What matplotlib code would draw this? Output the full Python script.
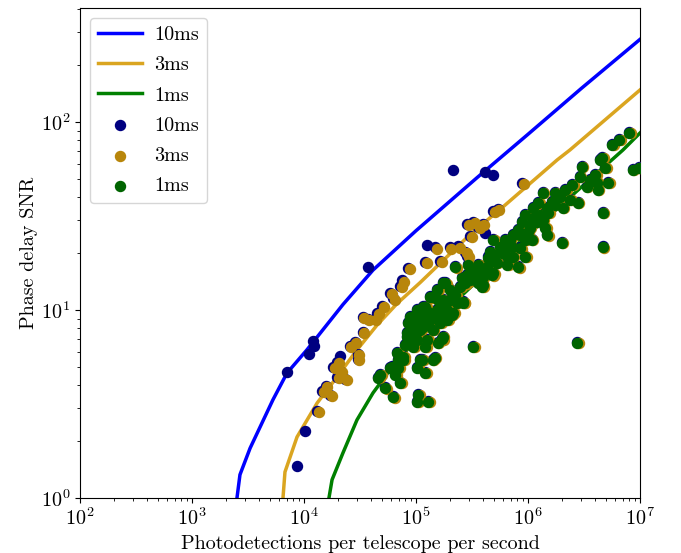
import numpy as np
import matplotlib
matplotlib.use("Agg")
import matplotlib.pyplot as plt
from matplotlib.transforms import offset_copy

plt.rcParams['font.family'] = ['cmr10', 'DejaVu Serif']
plt.rcParams['mathtext.fontset'] = 'cm'
plt.rcParams['axes.formatter.use_mathtext'] = True
plt.rcParams['font.size'] = 14.5

# ---------------- model curves ----------------
line_flux_10ms = [2520, 2680, 3300, 5280, 7050, 1.06e4, 1.31e4, 2.23e4, 4.13e4, 1.0e5, 3.5e5, 1.0e6, 3.0e6, 1.0e7]
line_snr_10ms = [1.0, 1.33, 1.84, 3.33, 4.62, 6.13, 7.18, 10.7, 16.3, 26.4, 50.5, 86.0, 151, 275]

line_flux_3ms = [6490, 6760, 8660, 1.31e4, 1.97e4, 2.97e4, 4.48e4, 6.76e4, 1.09e5, 3.0e5, 6.0e5, 1.82e6, 2.37e6, 1.0e7]
line_snr_3ms = [1.0, 1.375, 2.11, 3.20, 4.40, 6.13, 8.3, 10.8, 14.0, 25.0, 35.4, 62.8, 71.0, 148]

line_flux_1ms = [1.67e4, 1.78e4, 2.23e4, 2.97e4, 4.13e4, 5.86e4, 8.31e4, 1.25e5, 2.47e5, 5.62e5, 1.5e6, 7.05e6, 1.0e7]
line_snr_1ms = [1.0, 1.25, 1.74, 2.60, 3.62, 4.80, 6.13, 8.12, 11.7, 18.5, 31.2, 71.0, 87.4]

# ---------------- measured points ----------------
# points present in all three sets (1ms, 3ms, 10ms)
flux_1ms = [2.23e5, 2.92e5, 3.58e5, 4.31e5, 4.77e5, 3.89e5, 2.86e5, 1.82e5, 2.47e5, 2.14e5,
            1.41e5, 1.74e5, 2.32e5, 2.63e5, 1.21e5, 1.02e5, 1.54e5, 1.89e5, 2.14e5, 8.84e4,
            1.09e5, 1.33e5, 1.64e5, 8.49e4, 9.40e4, 1.16e5, 1.41e5, 1.74e5, 8.31e4, 1.02e5,
            1.26e5, 1.57e5, 9.40e4, 1.21e5, 3.23e5, 6.77e4, 7.65e4, 1.14e5, 1.47e5, 6.11e4,
            6.91e4, 1.02e5, 1.21e5, 4.77e4, 6.50e4, 7.20e4, 5.29e4, 6.23e4, 1.05e5, 1.02e5,
            1.28e5, 4.58e4, 5.86e4, 6.91e4, 7.65e4, 1.09e5, 1.41e5, 8.31e4, 1.02e5, 1.16e5,
            1.33e5, 1.54e5, 1.74e5,
            3.03e6, 4.39e6, 4.87e6, 8.65e6, 2.91e6, 2.47e6, 2.14e6, 4.13e6, 5.18e6, 4.21e6,
            3.36e6, 1.36e6, 1.74e6, 1.93e6, 1.64e6, 1.23e6, 1.11e6, 1.48e6, 2.05e6, 2.79e6,
            4.67e6, 9.40e5, 1.15e6, 1.36e6, 8.84e5, 1.08e6, 8.14e5, 9.98e5, 7.33e5, 9.40e5,
            1.48e6, 1.08e6, 2.01e6, 4.67e6, 6.23e5, 4.87e5, 5.62e5, 7.19e5, 4.58e5, 5.86e5,
            7.33e5, 9.40e5, 4.40e5, 5.28e5, 6.49e5, 8.14e5, 4.31e5, 4.87e5, 3.96e5, 3.96e5,
            9.7e6, 7.98e6, 6.50e6, 5.63e6, 4.58e6, 2.74e6, 1.71e5, 2.63e5, 2.09e5, 1.89e5,
            7.98e4, 8.84e4, 9.80e4, 1.09e5, 1.28e5, 1.47e5, 1.71e5, 1.82e5, 2.01e5, 1.57e5,
            1.28e5, 1.05e5, 9.21e4, 2.23e5, 2.74e5, 3.04e5, 3.37e5, 3.73e5, 3.58e5, 4.58e5,
            5.08e5, 3.17e5, 2.57e5, 2.01e5, 6.23e5, 6.90e5, 8.48e5, 1.04e6, 1.20e6, 1.28e6,
            1.51e6, 1.74e6, 8.48e5, 6.62e5, 1.42e6, 2.37e6, 3.58e6, 3.97e6]
snr_1ms = [16.9, 17.4, 17.4, 16.9, 15.3, 13.3, 15.3, 13.9, 13.3, 12.3,
           11.7, 11.3, 10.9, 11.0, 10.4, 9.64, 10.0, 10.0, 9.64, 9.18,
           9.07, 8.85, 8.53, 8.53, 7.83, 8.12, 7.83, 7.19, 7.19, 6.93,
           6.93, 6.68, 6.36, 6.36, 6.36, 5.91, 5.62, 5.42, 5.56, 4.98,
           4.92, 4.92, 4.63, 4.52, 4.52, 4.09, 3.84, 3.44, 3.53, 3.24,
           3.24, 4.35, 4.92, 5.42, 5.42, 5.42, 5.42, 7.55, 10.0, 10.4,
           11.7, 12.8, 13.9,
           57.7, 62.8, 57.0, 55.6, 51.0, 46.2, 43.5, 47.4, 47.4, 43.5,
           45.1, 41.9, 41.9, 39.9, 37.6, 37.1, 34.9, 34.9, 34.9, 37.1,
           32.8, 32.0, 31.2, 30.1, 29.4, 29.0, 26.6, 26.0, 25.0, 23.6,
           25.0, 23.6, 22.8, 21.6, 23.6, 23.6, 21.6, 21.6, 20.3, 20.1,
           19.2, 19.2, 19.0, 17.8, 17.4, 16.9, 16.7, 15.7, 13.5, 14.9,
           57.0, 87.4, 80.2, 75.5, 64.4, 6.68, 7.0, 10.9, 9.4, 8.85,
           6.52, 6.93, 7.37, 7.83, 8.33, 9.07, 9.4, 10.6, 11.3, 11.3,
           9.76, 8.63, 8.12, 12.0, 13.9, 14.4, 15.3, 16.3, 13.9, 18.0,
           19.6, 16.3, 14.8, 12.8, 20.8, 23.6, 25.0, 27.3, 29.4, 32.0,
           32.8, 36.2, 21.3, 19.0, 27.3, 38.5, 49.2, 52.3]

# points present only in the 3ms and 10ms sets
flux_3ms_extra = [1.31e4, 1.45e4, 1.71e4, 1.57e4, 1.98e4, 2.10e4, 2.33e4, 1.82e4, 1.98e4, 2.57e4,
                  2.85e4, 3.03e4, 3.36e4, 3.72e4, 4.49e4, 4.97e4, 5.86e4, 6.23e4, 7.20e4, 7.50e4,
                  8.48e4, 1.21e5, 1.64e5, 1.48e5, 2.01e5, 2.37e5, 2.74e5, 2.86e5, 2.86e5, 3.23e5,
                  3.58e5, 3.04e5, 3.96e5, 4.87e5, 5.39e5, 8.84e5, 3.36e4, 4.30e4, 3.03e4]
snr_3ms_extra = [2.87, 3.66, 3.49, 3.89, 4.35, 4.68, 4.24, 4.92, 5.23, 6.36,
                 6.68, 5.77, 7.55, 8.85, 9.52, 10.37, 12.2, 11.4, 13.3, 14.2,
                 16.5, 17.8, 18.0, 21.3, 21.3, 21.6, 20.1, 19.2, 28.3, 29.0,
                 27.3, 24.5, 28.3, 33.2, 34.0, 46.9, 9.07, 8.85, 5.42]

# points present only in the 10ms set
flux_10ms_extra = [2.14e5, 4.14e5, 4.87e5, 1.26e5, 4.14e5, 3.72e4, 1.20e4, 1.23e4, 1.107e4, 7.06e3,
                   1.02e4, 8.65e3, 2.10e4]
snr_10ms_extra = [54.9, 53.6, 51.7, 21.9, 25.3, 16.7, 6.76, 6.36, 5.77, 4.63,
                  2.24, 1.46, 5.62]

flux_3ms = flux_3ms_extra + flux_1ms
snr_3ms = snr_3ms_extra + snr_1ms
flux_10ms = flux_10ms_extra + flux_3ms
snr_10ms = snr_10ms_extra + snr_3ms

fig = plt.figure(figsize=(6.81, 5.53), dpi=100)
ax = fig.add_axes([0.1175, 0.0995, 0.8223, 0.8861])

ax.plot(line_flux_10ms, line_snr_10ms, color='blue', lw=2.5, label='10ms')
ax.plot(line_flux_3ms, line_snr_3ms, color='goldenrod', lw=2.5, label='3ms')
ax.plot(line_flux_1ms, line_snr_1ms, color='green', lw=2.5, label='1ms')

ms = 52
ax.scatter(flux_10ms, snr_10ms, s=ms, color='navy', label='10ms', zorder=3,
           transform=offset_copy(ax.transData, fig=fig, x=0, y=0.8, units='points'))
ax.scatter(flux_3ms, snr_3ms, s=ms, color='darkgoldenrod', label='3ms', zorder=4,
           transform=offset_copy(ax.transData, fig=fig, x=1.1, y=-0.3, units='points'))
ax.scatter(flux_1ms, snr_1ms, s=ms, color='darkgreen', label='1ms', zorder=5)

ax.set_xscale('log')
ax.set_yscale('log')
ax.set_xlim(1e2, 1e7)
ax.set_ylim(1, 404)
ax.set_xlabel('Photodetections per telescope per second')
ax.set_ylabel('Phase delay SNR', labelpad=2)

ax.legend(loc='upper left', handlelength=2.2, fontsize=14.5, labelspacing=0.6,
          handletextpad=0.6)

fig.savefig('out.png', dpi=100)
